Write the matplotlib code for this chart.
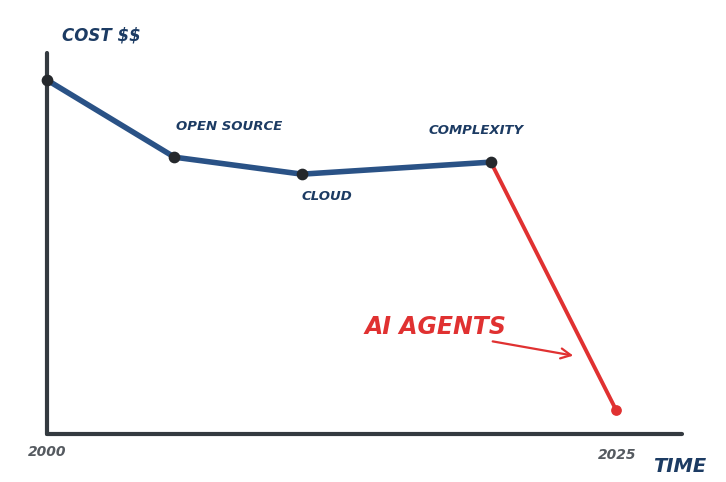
import matplotlib
matplotlib.use("Agg")
import matplotlib.pyplot as plt

# Data
years_blue = [2000, 2005.6, 2011.2, 2019.5]
cost_blue = [100, 78.2, 73.4, 76.8]
years_red = [2019.5, 2025]
cost_red = [76.8, 6.8]
labels = ["Open Source", "Cloud", "Complexity"]

NAVY = "#1c3b63"
BLUE = "#2a5286"
RED = "#e03131"
AXIS = "#343a40"
GRAY = "#555a60"
FONT = ["DejaVu Sans"]

fig = plt.figure(figsize=(7.26, 4.82), dpi=100)
ax = fig.add_axes([0, 0, 1, 1])
ax.set_xlim(1997.935, 2029.83)
ax.set_ylim(-13.56, 122.6)
ax.axis("off")

# axes lines
ax.plot([2000, 2000], [0, 107.6], color=AXIS, lw=3, solid_capstyle="round", zorder=1)
ax.plot([2000, 2027.9], [0, 0], color=AXIS, lw=3, solid_capstyle="round", zorder=1)

# series
ax.plot(years_blue, cost_blue, color=BLUE, lw=4, solid_capstyle="round", solid_joinstyle="round", zorder=2)
ax.plot(years_red, cost_red, color=RED, lw=2.8, solid_capstyle="round", zorder=2)
ax.scatter(years_blue, cost_blue, s=55, color="#25282c", zorder=3)
ax.scatter([years_red[-1]], [cost_red[-1]], s=45, color=RED, zorder=3)

txt = dict(family=FONT, fontweight="bold", fontstyle="italic", color=NAVY, va="center", ha="left")
ax.text(2000.66, 112.7, r"COST \$\$", fontsize=12, **txt)
ax.text(2005.67, 87.0, labels[0].upper(), fontsize=9.5, **txt)
ax.text(2011.16, 67.2, labels[1].upper(), fontsize=9.5, **txt)
ax.text(2016.74, 85.6, labels[2].upper(), fontsize=9.5, **txt)
ax.text(2026.63, -9.3, "TIME", fontsize=14, **txt)

ax.text(2013.93, 30.2, "AI AGENTS", fontsize=17, family=FONT, fontweight="bold",
        fontstyle="italic", color=RED, va="center", ha="left")
ax.annotate("", xy=(2023.24, 22.0), xytext=(2019.46, 26.3),
            arrowprops=dict(arrowstyle="->", color=RED, lw=1.6, mutation_scale=18))

ax.text(2000, -5.1, "2000", fontsize=10, family=FONT, fontweight="bold", fontstyle="italic",
        color=GRAY, ha="center", va="center")
ax.text(2025.04, -5.9, "2025", fontsize=10, family=FONT, fontweight="bold", fontstyle="italic",
        color=GRAY, ha="center", va="center")

fig.savefig("out.png", dpi=100, facecolor="white")
